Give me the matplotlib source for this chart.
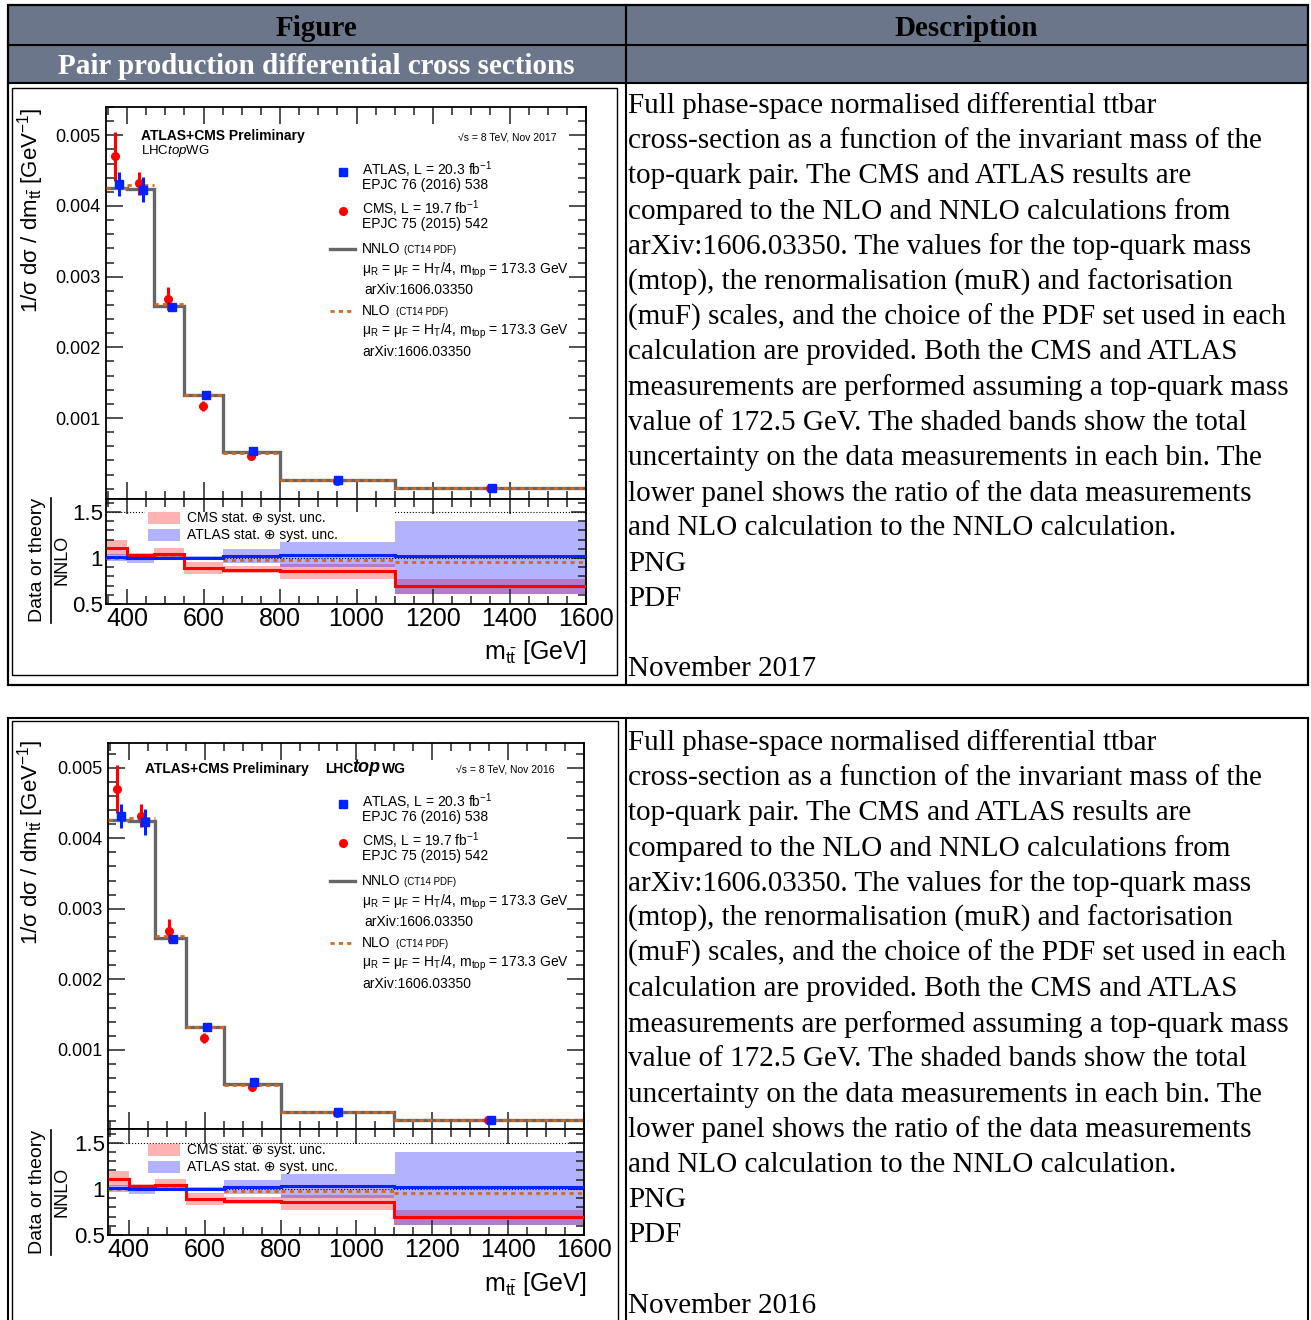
import matplotlib.pyplot as plt
from matplotlib.patches import Rectangle
from matplotlib.lines import Line2D
from matplotlib.ticker import MultipleLocator

plt.rcParams['font.family'] = ['Liberation Sans', 'DejaVu Sans']
plt.rcParams['mathtext.fontset'] = 'custom'
plt.rcParams['mathtext.rm'] = 'Liberation Sans'
plt.rcParams['mathtext.it'] = 'Liberation Sans:italic'
plt.rcParams['mathtext.bf'] = 'Liberation Sans:bold'

W, H = 1311, 1320

# m_tt binning [GeV]
bin_edges = [345, 400, 470, 550, 650, 800, 1100, 1600]

# theory, 1/sigma dsigma/dm_tt [GeV^-1]
nnlo = [0.00426, 0.00424, 0.00259, 0.00132, 0.00052, 0.000120, 0.000012]
nlo = [0.00426, 0.00429, 0.00261, 0.00132, 0.00051, 0.000117, 0.000011]

# measurements
atlas_x = [379, 443, 517, 606, 729, 952, 1354]
atlas_y = [0.00431, 0.00423, 0.00257, 0.00133, 0.00054, 0.000125, 0.000012]
atlas_err = [0.00017, 0.00018, 0.00004, 0.00002, 0.00003, 0.00001, 0.000003]
cms_x = [369, 431, 506, 598, 724, 948, 1348]
cms_y = [0.00470, 0.00432, 0.00269, 0.00117, 0.00047, 0.000105, 0.000008]
cms_err = [0.00034, 0.00016, 0.00016, 0.00007, 0.00003, 0.00001, 0.000001]

# ratios to NNLO
ratio_atlas = [1.014, 0.995, 0.995, 1.0, 1.02, 1.03, 1.025]
ratio_atlas_lo = [0.97, 0.95, 0.98, 0.98, 0.95, 0.90, 0.61]
ratio_atlas_hi = [1.04, 1.03, 1.02, 1.02, 1.10, 1.18, 1.40]
ratio_cms = [1.11, 1.03, 1.04, 0.89, 0.87, 0.855, 0.69]
ratio_cms_lo = [1.03, 0.99, 0.99, 0.826, 0.84, 0.77, 0.61]
ratio_cms_hi = [1.19, 1.055, 1.105, 0.955, 0.91, 0.935, 0.77]
ratio_nlo = [1.0, 1.01, 1.005, 1.0, 0.98, 0.975, 0.955]

description = [
    "Full phase-space normalised differential ttbar",
    "cross-section as a function of the invariant mass of the",
    "top-quark pair. The CMS and ATLAS results are",
    "compared to the NLO and NNLO calculations from",
    "arXiv:1606.03350. The values for the top-quark mass",
    "(mtop), the renormalisation (muR) and factorisation",
    "(muF) scales, and the choice of the PDF set used in each",
    "calculation are provided. Both the CMS and ATLAS",
    "measurements are performed assuming a top-quark mass",
    "value of 172.5 GeV. The shaded bands show the total",
    "uncertainty on the data measurements in each bin. The",
    "lower panel shows the ratio of the data measurements",
    "and NLO calculation to the NNLO calculation.",
    "PNG",
    "PDF",
    "",
]

fig = plt.figure(figsize=(W / 100, H / 100), dpi=100)


def fx(x):
    return x / W


def fy(y):
    return 1 - y / H


def hline(x0, x1, y, lw=1.5, color='black'):
    fig.add_artist(Line2D([fx(x0), fx(x1)], [fy(y), fy(y)], lw=lw, color=color,
                          transform=fig.transFigure))


def vline(x, y0, y1, lw=1.5, color='black'):
    fig.add_artist(Line2D([fx(x), fx(x)], [fy(y0), fy(y1)], lw=lw, color=color,
                          transform=fig.transFigure))


def box(x0, y0, x1, y1, **kw):
    r = Rectangle((fx(x0), fy(y1)), fx(x1) - fx(x0), fy(y0) - fy(y1),
                  transform=fig.transFigure, **kw)
    fig.add_artist(r)


def txt(x, y, s, **kw):
    fig.text(fx(x), fy(y), s, **kw)


def style_axis(ax, major_len, minor_len):
    ax.tick_params(which='both', direction='in', top=True, right=True, width=1.1,
                   color='#222222')
    ax.tick_params(which='major', length=major_len)
    ax.tick_params(which='minor', length=minor_len)
    for s in ax.spines.values():
        s.set_linewidth(1.3)


def draw_plot(main_px, ratio_bottom, ylim_main, ylim_ratio, dy, year):
    x0, y0, x1, y1 = main_px
    ax = fig.add_axes([fx(x0), fy(y1), fx(x1) - fx(x0), fy(y0) - fy(y1)])
    ax.stairs(nnlo, bin_edges, baseline=None, color='#666666', lw=2.4, zorder=2)
    ax.hlines(nlo, bin_edges[:-1], bin_edges[1:], color='#d2691e', lw=2,
              ls=(0, (1.5, 1.5)), zorder=3)
    ax.errorbar(cms_x, cms_y, yerr=cms_err, fmt='o', color='#ff0000', ms=5.5,
                elinewidth=2.2, capsize=0, zorder=4)
    ax.errorbar(atlas_x, atlas_y, yerr=atlas_err, fmt='s', color='#0022ff', ms=6,
                elinewidth=2.2, capsize=0, zorder=5)
    ax.set_xlim(345, 1600)
    ax.set_ylim(*ylim_main)
    ax.xaxis.set_major_locator(MultipleLocator(200))
    ax.xaxis.set_minor_locator(MultipleLocator(50))
    ax.yaxis.set_minor_locator(MultipleLocator(0.0002))
    ax.set_yticks([0.001, 0.002, 0.003, 0.004, 0.005])
    ax.set_yticklabels(['0.001', '0.002', '0.003', '0.004', '0.005'], fontsize=13)
    ax.tick_params(axis='x', labelbottom=False)
    ax.tick_params(axis='y', pad=4)
    style_axis(ax, 12, 6)

    rx = fig.add_axes([fx(x0), fy(ratio_bottom), fx(x1) - fx(x0), fy(y1) - fy(ratio_bottom)])
    rx.stairs(ratio_cms_hi, bin_edges, baseline=ratio_cms_lo, fill=True,
              color='#ff0000', alpha=0.3, lw=0, zorder=1)
    rx.stairs(ratio_atlas_hi, bin_edges, baseline=ratio_atlas_lo, fill=True,
              color='#0000ff', alpha=0.3, lw=0, zorder=1)
    rx.axhline(1.0, color='black', lw=0.8, ls=':', zorder=2)
    rx.axhline(1.5, color='black', lw=0.8, ls=':', zorder=2)
    rx.hlines(ratio_nlo, bin_edges[:-1], bin_edges[1:], color='#d2691e', lw=2,
              ls=(0, (1.5, 1.5)), zorder=3)
    rx.stairs(ratio_cms, bin_edges, baseline=None, color='#ff0000', lw=2.2, zorder=4)
    rx.stairs(ratio_atlas, bin_edges, baseline=None, color='#0022ff', lw=2.2, zorder=5)
    rx.set_xlim(345, 1600)
    rx.set_ylim(*ylim_ratio)
    rx.xaxis.set_minor_locator(MultipleLocator(50))
    rx.set_yticks([0.5, 1, 1.5])
    rx.set_yticklabels(['0.5', '1', '1.5'], fontsize=16)
    rx.yaxis.set_minor_locator(MultipleLocator(0.1))
    rx.set_xticks([400, 600, 800, 1000, 1200, 1400, 1600])
    rx.set_xticklabels(['400', '600', '800', '1000', '1200', '1400', '1600'], fontsize=18)
    rx.tick_params(axis='x', pad=2)
    rx.tick_params(axis='y', pad=2)
    style_axis(rx, 11, 6)

    # axis titles
    txt(31, 210 + dy, r'1/σ dσ / dm$_{\mathrm{t\bar{t}}}$ [GeV$^{-1}$]', fontsize=16,
        rotation=90, ha='center', va='center')
    txt(38, 560 + dy, 'Data or theory', fontsize=14, rotation=90, ha='center', va='center')
    vline(51, 498 + dy, 623 + dy, lw=1.2)
    txt(62, 560 + dy, 'NNLO', fontsize=13, rotation=90, ha='center', va='center')
    txt(587, 652 + dy, r'm$_{\mathrm{t\bar{t}}}$ [GeV]', fontsize=18, ha='right', va='center')

    # header
    if year == 2017:
        txt(141, 136, 'ATLAS+CMS Preliminary', fontsize=10, fontweight='bold', va='center')
        txt(141, 151, r'LHC$\it{top}$WG', fontsize=9.5, va='center')
        txt(556, 137, '√s = 8 TeV, Nov 2017', fontsize=7.5, ha='right', va='center')
    else:
        txt(145, 769, 'ATLAS+CMS Preliminary', fontsize=10, fontweight='bold', va='center')
        txt(325, 769, 'LHC', fontsize=10, fontweight='bold', va='center')
        txt(352, 768, 'top', fontsize=13, fontweight='bold', style='italic', va='center')
        txt(382, 769, 'WG', fontsize=10, fontweight='bold', va='center')
        txt(555, 770, '√s = 8 TeV, Nov 2016', fontsize=7.5, ha='right', va='center')

    # legend
    fig.add_artist(Line2D([fx(343)], [fy(172 + dy)], marker='s', ms=6, color='#0022ff',
                          ls='none', transform=fig.transFigure))
    txt(362, 170 + dy, r'ATLAS, L = 20.3 fb$^{-1}$', fontsize=10, va='center')
    txt(362, 185 + dy, 'EPJC 76 (2016) 538', fontsize=10, va='center')
    fig.add_artist(Line2D([fx(343)], [fy(211 + dy)], marker='o', ms=5.5, color='#ff0000',
                          ls='none', transform=fig.transFigure))
    txt(362, 209 + dy, r'CMS, L = 19.7 fb$^{-1}$', fontsize=10, va='center')
    txt(362, 224 + dy, 'EPJC 75 (2015) 542', fontsize=10, va='center')
    fig.add_artist(Line2D([fx(330), fx(355)], [fy(249 + dy)] * 2, lw=2.4, color='#666666',
                          transform=fig.transFigure))
    txt(362, 249 + dy, 'NNLO', fontsize=10, va='center')
    txt(404, 250 + dy, '(CT14 PDF)', fontsize=7, va='center')
    mu = r'μ$_{\mathrm{R}}$ = μ$_{\mathrm{F}}$ = H$_{\mathrm{T}}$/4, m$_{\mathrm{top}}$ = 173.3 GeV'
    txt(362, 270 + dy, mu, fontsize=10, va='center')
    txt(364, 290 + dy, 'arXiv:1606.03350', fontsize=10, va='center')
    fig.add_artist(Line2D([fx(330), fx(355)], [fy(311 + dy)] * 2, lw=2, color='#d2691e',
                          ls=(0, (1.5, 1.5)), transform=fig.transFigure))
    txt(362, 311 + dy, 'NLO', fontsize=10, va='center')
    txt(396, 312 + dy, '(CT14 PDF)', fontsize=7, va='center')
    txt(362, 331 + dy, mu, fontsize=10, va='center')
    txt(362, 352 + dy, 'arXiv:1606.03350', fontsize=10, va='center')

    # ratio legend
    ry = 512 + (dy - 1)
    box(145, ry + 1, 395, ry + 31, facecolor='white', edgecolor='none', zorder=3)
    box(148, ry + 1, 180, ry + 13, facecolor='#ff0000', alpha=0.3, edgecolor='none', zorder=4)
    box(148, ry + 18, 180, ry + 30, facecolor='#0000ff', alpha=0.3, edgecolor='none', zorder=4)
    txt(187, ry + 7, 'CMS stat. ⊕ syst. unc.', fontsize=10, va='center', zorder=5)
    txt(187, ry + 24, 'ATLAS stat. ⊕ syst. unc.', fontsize=10, va='center', zorder=5)


serif = 'Liberation Serif'

# ---- table 1 ----
box(8, 5, 1308, 83, facecolor='#6b768a', edgecolor='none')
box(8, 5, 1308, 685, facecolor='none', edgecolor='black', lw=1.6)
hline(8, 1308, 45)
hline(8, 1308, 83)
vline(626, 5, 685)
box(12, 88, 617, 675, facecolor='none', edgecolor='black', lw=1)
txt(316, 28, 'Figure', family=serif, fontsize=21, fontweight='bold',
    ha='center', va='center')
txt(966, 28, 'Description', family=serif, fontsize=21, fontweight='bold',
    ha='center', va='center')
txt(316, 66, 'Pair production differential cross sections', family=serif,
    fontsize=21, fontweight='bold', color='white', ha='center', va='center')
for i, line in enumerate(description + ['November 2017']):
    txt(628, 106 + 35.2 * i, line, family=serif, fontsize=21, va='center')

# ---- table 2 ----
hline(8, 1308, 718)
vline(8, 718, 1320)
vline(1308, 718, 1320)
vline(626, 718, 1320)
box(12, 721, 618, 1330, facecolor='none', edgecolor='black', lw=1)
for i, line in enumerate(description + ['November 2016']):
    txt(628, 742.5 + 35.2 * i, line, family=serif, fontsize=21, va='center')

draw_plot((106, 107, 586, 499), 604, (-0.000145, 0.0054), (0.5, 1.64), 0, 2017)
draw_plot((108, 743, 584, 1129), 1235, (-0.00012, 0.00535), (0.5, 1.65), 632, 2016)

fig.savefig('out.png', dpi=100)
